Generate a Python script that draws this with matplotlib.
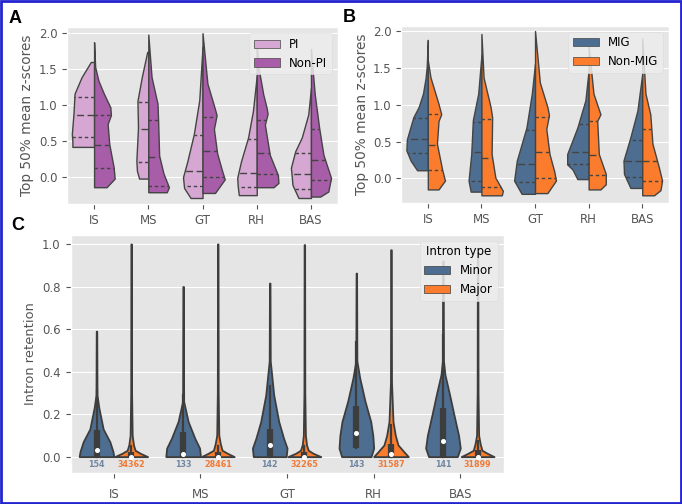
import numpy as np
import matplotlib
matplotlib.use("Agg")
import matplotlib.pyplot as plt
from matplotlib.patches import Patch, Rectangle

tissues = ["IS", "MS", "GT", "RH", "BAS"]

# ---- panel A: PI vs Non-PI (half violins, y levels and half widths)
pi_y = [[0.42, 0.49, 0.60, 0.88, 1.16, 1.39, 1.60],
        [-0.02, 0.09, 0.23, 0.69, 1.06, 1.39, 1.74],
        [-0.29, -0.15, 0.00, 0.22, 0.60, 1.07, 1.81],
        [-0.25, -0.13, -0.01, 0.22, 0.55, 0.92, 1.41],
        [-0.29, -0.11, 0.13, 0.36, 0.55, 0.87, 1.24]]
pi_w = [[0.40, 0.40, 0.41, 0.38, 0.36, 0.23, 0.06],
        [0.17, 0.21, 0.22, 0.19, 0.20, 0.12, 0.02],
        [0.22, 0.34, 0.36, 0.28, 0.16, 0.06, 0.0],
        [0.33, 0.35, 0.36, 0.29, 0.16, 0.07, 0.0],
        [0.23, 0.34, 0.37, 0.29, 0.17, 0.05, 0.0]]
nonpi_y = [[-0.14, -0.02, 0.14, 0.46, 0.74, 0.86, 0.97, 1.16, 1.34, 1.53, 1.875],
           [-0.21, -0.14, 0.05, 0.30, 0.81, 1.02, 1.39, 1.98],
           [-0.22, -0.03, 0.09, 0.33, 0.67, 0.86, 0.97, 1.30, 2.00],
           [-0.14, -0.08, 0.03, 0.31, 0.73, 0.88, 0.97, 1.15, 1.55, 1.86],
           [-0.27, -0.20, -0.01, 0.31, 0.69, 1.15, 1.41, 1.78]]
nonpi_w = [[0.23, 0.38, 0.36, 0.28, 0.25, 0.31, 0.30, 0.18, 0.08, 0.02, 0.0],
           [0.34, 0.38, 0.28, 0.20, 0.18, 0.17, 0.06, 0.0],
           [0.23, 0.41, 0.36, 0.27, 0.21, 0.26, 0.22, 0.09, 0.0],
           [0.31, 0.40, 0.39, 0.24, 0.15, 0.20, 0.18, 0.12, 0.025, 0.0],
           [0.17, 0.32, 0.37, 0.23, 0.15, 0.07, 0.04, 0.0]]
pi_q = [[0.56, 0.86, 1.12], [0.21, 0.67, 1.05], [-0.13, 0.08, 0.58],
        [-0.14, 0.06, 0.53], [-0.16, 0.05, 0.33]]
nonpi_q = [[0.12, 0.45, 0.87], [-0.12, 0.28, 0.79], [0.00, 0.36, 0.84],
           [0.05, 0.33, 0.79], [-0.04, 0.24, 0.67]]

# ---- panel B: MIG vs Non-MIG
mig_y = [[0.11, 0.24, 0.38, 0.53, 0.83, 0.97, 1.15, 1.37, 1.52, 1.88],
         [-0.18, -0.03, 0.33, 0.79, 1.15, 1.67],
         [-0.21, -0.03, 0.24, 0.69, 1.15, 1.56],
         [-0.01, 0.12, 0.19, 0.33, 0.69, 1.06, 1.47],
         [-0.13, 0.06, 0.24, 0.56, 0.92, 1.42]]
mig_w = [[0.20, 0.32, 0.40, 0.39, 0.27, 0.17, 0.09, 0.04, 0.02, 0.0],
         [0.20, 0.24, 0.19, 0.16, 0.06, 0.0],
         [0.25, 0.39, 0.34, 0.16, 0.06, 0.0],
         [0.21, 0.30, 0.40, 0.40, 0.21, 0.06, 0.0],
         [0.22, 0.34, 0.35, 0.22, 0.09, 0.0]]
nonmig_y = [[-0.15, -0.03, 0.11, 0.47, 0.78, 0.87, 1.01, 1.37, 1.60],
            [-0.23, -0.17, 0.01, 0.33, 0.83, 0.97, 1.37, 1.96],
            [-0.20, -0.03, 0.09, 0.33, 0.67, 0.86, 0.97, 1.30, 2.00],
            [-0.15, -0.08, 0.06, 0.33, 0.78, 0.87, 1.15, 1.80],
            [-0.23, -0.16, -0.03, 0.15, 0.47, 0.87, 1.15, 1.90]]
nonmig_w = [[0.20, 0.32, 0.27, 0.17, 0.20, 0.25, 0.20, 0.05, 0.0],
            [0.38, 0.40, 0.26, 0.19, 0.20, 0.17, 0.04, 0.0],
            [0.23, 0.39, 0.36, 0.27, 0.21, 0.26, 0.23, 0.09, 0.0],
            [0.22, 0.32, 0.32, 0.19, 0.16, 0.22, 0.09, 0.0],
            [0.22, 0.34, 0.37, 0.31, 0.19, 0.15, 0.06, 0.0]]
mig_q = [[0.34, 0.54, 0.82], [-0.04, 0.36, 0.77], [-0.05, 0.20, 0.65],
         [0.20, 0.36, 0.74], [0.02, 0.24, 0.52]]
nonmig_q = [[0.12, 0.45, 0.87], [-0.12, 0.28, 0.80], [0.00, 0.36, 0.83],
            [0.04, 0.32, 0.78], [-0.04, 0.24, 0.67]]

# ---- panel C: intron retention, minor vs major
minor_y = [[0, 0.024, 0.07, 0.13, 0.23, 0.29, 0.59],
           [0, 0.04, 0.086, 0.165, 0.26, 0.80],
           [0, 0.04, 0.086, 0.165, 0.29, 0.45, 0.816],
           [0, 0.04, 0.10, 0.165, 0.26, 0.37, 0.45, 0.863],
           [0, 0.04, 0.10, 0.196, 0.29, 0.385, 0.45, 0.92]]
minor_w = [[0.20, 0.19, 0.154, 0.077, 0.027, 0.006, 0.003],
           [0.20, 0.19, 0.135, 0.058, 0.006, 0.003],
           [0.19, 0.20, 0.16, 0.104, 0.046, 0.006, 0.003],
           [0.17, 0.20, 0.19, 0.166, 0.10, 0.039, 0.006, 0.003],
           [0.166, 0.20, 0.18, 0.127, 0.077, 0.023, 0.006, 0.003]]
major_y = [[0, 0.016, 0.03, 0.055, 0.10, 0.30, 1.0],
           [0, 0.016, 0.03, 0.06, 0.10, 0.30, 1.0],
           [0, 0.016, 0.03, 0.055, 0.10, 0.30, 0.997],
           [0, 0.024, 0.055, 0.10, 0.165, 0.35, 0.973],
           [0, 0.016, 0.03, 0.06, 0.10, 0.30, 0.96]]
major_w = [[0.19, 0.104, 0.046, 0.027, 0.012, 0.005, 0.003],
           [0.19, 0.11, 0.05, 0.03, 0.012, 0.005, 0.003],
           [0.19, 0.10, 0.045, 0.025, 0.012, 0.005, 0.003],
           [0.20, 0.147, 0.081, 0.05, 0.023, 0.006, 0.003],
           [0.19, 0.11, 0.05, 0.03, 0.012, 0.005, 0.003]]
# q1, median, q3, upper whisker
minor_box = [[0, 0.03, 0.125, 0.31], [0, 0.012, 0.115, 0.29], [0, 0.054, 0.13, 0.33],
             [0.04, 0.11, 0.24, 0.54], [0, 0.072, 0.23, 0.57]]
major_box = [[0, 0.0, 0.02, 0.05], [0, 0.0, 0.02, 0.05], [0, 0.0, 0.02, 0.05],
             [0, 0.012, 0.06, 0.15], [0, 0.0, 0.03, 0.075]]
minor_n = [154, 133, 142, 143, 141]
major_n = [34362, 28461, 32265, 31587, 31899]

pi_col, nonpi_col = "#D6A7D2", "#A75DA7"
blue, orange = "#4E6E91", "#FA7C2C"
edge = "#444444"

plt.style.use("ggplot")
plt.rcParams["font.family"] = ["DejaVu Sans"]

fig = plt.figure(figsize=(6.82, 5.04), dpi=100)
axA = fig.add_axes([0.0982, 0.595, 0.3975, 0.351])
axB = fig.add_axes([0.588, 0.597, 0.393, 0.352])
axC = fig.add_axes([0.1034, 0.0615, 0.635, 0.473])


def half(ax, pos, ys, ws, q, side, color):
    ys = np.array(ys)
    ws = np.array(ws)
    sign = -1 if side == "left" else 1
    ax.fill_betweenx(ys, pos, pos + sign * ws, facecolor=color, edgecolor=edge,
                     lw=1.0, zorder=2)
    for k, val in enumerate(q):
        w = np.interp(val, ys, ws)
        dash = (0, (5, 2.5)) if k == 1 else (0, (2.5, 2))
        ax.plot([pos, pos + sign * w], [val, val], color=edge, lw=1.0,
                ls=dash, zorder=3)


def split_panel(ax, ly, lw_, lq, ry, rw, rq, lcol, rcol, labels, ylim):
    for i in range(len(tissues)):
        half(ax, i, ly[i], lw_[i], lq[i], "left", lcol)
        half(ax, i, ry[i], rw[i], rq[i], "right", rcol)
    ax.set_xlim(-0.5, 4.5)
    ax.set_ylim(*ylim)
    ax.set_xticks(range(len(tissues)))
    ax.set_xticklabels(tissues)
    ax.set_yticks([0.0, 0.5, 1.0, 1.5, 2.0])
    ax.xaxis.grid(False)
    ax.set_ylabel("Top 50% mean z-scores", fontsize=9.8, color="#555555", labelpad=3)
    ax.tick_params(labelsize=8.5)
    handles = [Patch(facecolor=lcol, edgecolor=edge, label=labels[0]),
               Patch(facecolor=rcol, edgecolor=edge, label=labels[1])]
    ax.legend(handles=handles, loc="upper right", fontsize=8.5, handlelength=2.2,
              facecolor="#EDEDED", edgecolor="#DCDCDC", framealpha=0.85)


split_panel(axA, pi_y, pi_w, pi_q, nonpi_y, nonpi_w, nonpi_q,
            pi_col, nonpi_col, ["PI", "Non-PI"], (-0.375, 2.083))
split_panel(axB, mig_y, mig_w, mig_q, nonmig_y, nonmig_w, nonmig_q,
            blue, orange, ["MIG", "Non-MIG"], (-0.336, 2.072))

# panel C
for i in range(len(tissues)):
    for off, ys, ws, box, col in [(-0.2, minor_y[i], minor_w[i], minor_box[i], blue),
                                  (0.2, major_y[i], major_w[i], major_box[i], orange)]:
        pos = i + off
        ys = np.array(ys)
        ws = np.array(ws)
        axC.fill_betweenx(ys, pos - ws, pos + ws, facecolor=col, edgecolor="#3d3d3d",
                          lw=1.3, zorder=2)
        q1, med, q3, wh = box
        axC.plot([pos, pos], [q1, wh], color="#3d3d3d", lw=1.6, zorder=3)
        axC.plot([pos, pos], [q1, q3], color="#3d3d3d", lw=4.5, zorder=3,
                 solid_capstyle="butt")
        axC.plot(pos, med, "o", color="white", ms=2.6, zorder=4)
    axC.text(i - 0.2, -0.039, str(minor_n[i]), ha="center", va="center",
             fontsize=5.8, fontweight="bold", color="#6F87A3")
    axC.text(i + 0.2, -0.039, str(major_n[i]), ha="center", va="center",
             fontsize=5.8, fontweight="bold", color="#F07A36")

axC.set_xlim(-0.5, 4.5)
axC.set_ylim(-0.077, 1.044)
axC.set_xticks(range(len(tissues)))
axC.set_xticklabels(tissues)
axC.set_yticks([0.0, 0.2, 0.4, 0.6, 0.8, 1.0])
axC.xaxis.grid(False)
axC.set_ylabel("Intron retention", fontsize=9.4, color="#555555", labelpad=4)
axC.tick_params(labelsize=8.5)
axC.tick_params(axis="x", pad=7)
axC.legend(handles=[Patch(facecolor=blue, edgecolor="#3d3d3d", label="Minor"),
                    Patch(facecolor=orange, edgecolor="#3d3d3d", label="Major")],
           title="Intron type", loc="upper right", fontsize=8.5, title_fontsize=8.5,
           handlelength=2.2, facecolor="#EDEDED", edgecolor="#DCDCDC", framealpha=0.85)

for lab, x, y in [("A", 0.012, 0.955), ("B", 0.503, 0.957), ("C", 0.017, 0.543)]:
    fig.text(x, y, lab, fontsize=13, fontweight="bold", family="Liberation Sans")

fig.patches.append(Rectangle((0.002, 0.002), 0.996, 0.996, transform=fig.transFigure,
                             fill=False, edgecolor="#2323D0", lw=2.0))

fig.savefig("out.png", dpi=100)
